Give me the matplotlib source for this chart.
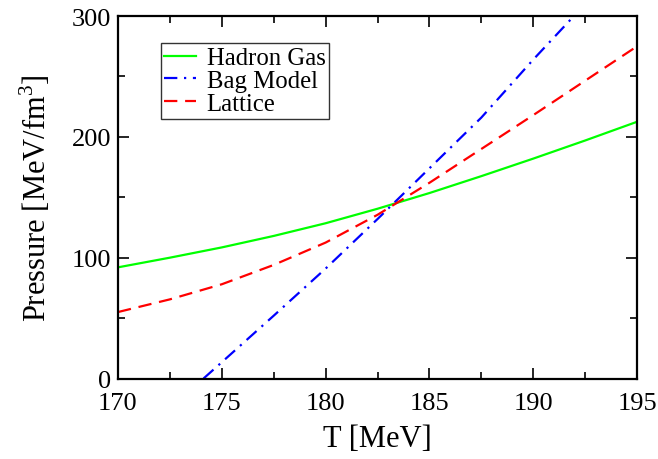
import matplotlib
matplotlib.use("Agg")
import matplotlib.pyplot as plt
from matplotlib.ticker import MultipleLocator

# Data
T_grid = [170, 172.5, 175, 177.5, 180, 182.5, 185, 187.5, 190, 192.5, 195]
hadron_gas = [92, 100, 108.5, 118, 128.5, 140.5, 153.5, 167.5, 182, 197, 212.5]
lattice = [55, 65.5, 78, 94, 112.5, 135.5, 162, 190, 218, 246.5, 275]
T_bag = [174.12, 175, 177.5, 180, 182.5, 185, 187.5, 190, 192.5]
bag_model = [0, 13.5, 52, 91, 132, 174, 216, 264, 310]

x_ticks = [170, 175, 180, 185, 190, 195]
y_ticks = [0, 100, 200, 300]

plt.rcParams['font.family'] = ['Liberation Serif', 'DejaVu Serif']
plt.rcParams['mathtext.fontset'] = 'custom'
plt.rcParams['mathtext.rm'] = 'Liberation Serif'

fig = plt.figure(figsize=(6.58, 4.60), dpi=100)
ax = fig.add_axes([0.1793, 0.175, 0.789, 0.788])

ax.plot(T_grid, hadron_gas, color='#00ff00', lw=1.6, label='Hadron Gas')
ax.plot(T_bag, bag_model, color='#0000ff', lw=1.6, dashes=(6, 3, 1, 3), label='Bag Model')
ax.plot(T_grid, lattice, color='#ff0000', lw=1.6, dashes=(6, 3.5), label='Lattice')

ax.set_xlim(170, 195)
ax.set_ylim(0, 300)
ax.set_xticks(x_ticks)
ax.set_yticks(y_ticks)
ax.xaxis.set_minor_locator(MultipleLocator(2.5))
ax.yaxis.set_minor_locator(MultipleLocator(50))
ax.tick_params(which='both', direction='in', top=True, right=True, width=1.2)
ax.tick_params(which='major', length=8, labelsize=19)
ax.tick_params(axis='x', which='major', pad=10)
ax.tick_params(axis='y', which='major', pad=5)
ax.tick_params(which='minor', length=5)
for s in ax.spines.values():
    s.set_linewidth(1.6)

ax.set_xlabel('T [MeV]', fontsize=22, labelpad=7)
ax.set_ylabel('Pressure [MeV/fm$^3$]', fontsize=22, labelpad=13)

leg = ax.legend(loc='upper left', bbox_to_anchor=(0.082, 0.925), fontsize=17.8,
                frameon=True, fancybox=False, edgecolor='black', handlelength=1.28,
                handletextpad=0.43, borderpad=0.15, labelspacing=0.02, borderaxespad=0)
leg.get_frame().set_linewidth(1.0)

fig.savefig('out.png', dpi=100)
